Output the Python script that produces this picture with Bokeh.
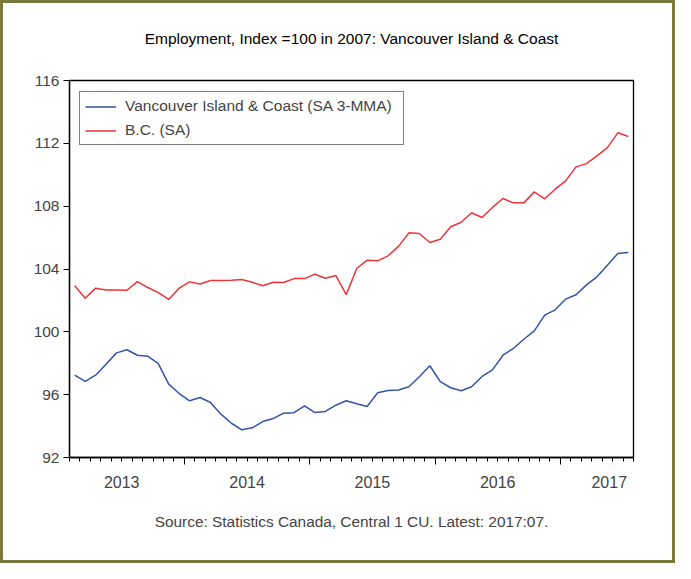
from bokeh.plotting import figure
from bokeh.layouts import column
from bokeh.models import LinearAxis, FixedTicker, Range1d, Legend, LegendItem, Title
from bokeh.embed import file_html
from bokeh.resources import INLINE

# Monthly data, Feb 2013 .. Jul 2017
start_year = 2013
start_month = 2
vancouver_island = [
    97.24, 96.84, 97.24, 97.94, 98.66, 98.86, 98.51, 98.45, 97.98, 96.67,
    96.07, 95.61, 95.82, 95.50, 94.76, 94.18, 93.76, 93.89, 94.29, 94.48,
    94.82, 94.85, 95.29, 94.86, 94.93, 95.33, 95.61, 95.42, 95.25, 96.12,
    96.27, 96.30, 96.50, 97.14, 97.84, 96.83, 96.44, 96.25, 96.50, 97.16,
    97.58, 98.51, 98.94, 99.53, 100.06, 101.06, 101.40, 102.08, 102.36, 102.99,
    103.50, 104.24, 104.99, 105.05,
]
bc = [
    102.93, 102.14, 102.78, 102.67, 102.67, 102.65, 103.20, 102.82, 102.50, 102.06,
    102.78, 103.18, 103.05, 103.27, 103.27, 103.29, 103.33, 103.16, 102.93, 103.16,
    103.14, 103.39, 103.39, 103.67, 103.41, 103.58, 102.37, 104.03, 104.56, 104.52,
    104.84, 105.44, 106.30, 106.26, 105.69, 105.89, 106.69, 106.98, 107.58, 107.28,
    107.92, 108.49, 108.21, 108.21, 108.91, 108.47, 109.08, 109.61, 110.50, 110.71,
    111.20, 111.73, 112.67, 112.43,
]
series_labels = ["Vancouver Island & Coast (SA 3-MMA)", "B.C. (SA)"]
year_labels = ["2013", "2014", "2015", "2016", "2017"]
year_label_pos = [2013.5, 2014.5, 2015.5, 2016.5, 2017.39]
year_ticks = [2014, 2015, 2016, 2017]
y_ticks = [92, 96, 100, 104, 108, 112, 116]
title_text = "Employment, Index =100 in 2007: Vancouver Island & Coast"
source_text = "Source: Statistics Canada, Central 1 CU. Latest: 2017:07."

n = len(vancouver_island)
x = [start_year + (start_month - 1 + i + 0.5) / 12 for i in range(n)]
month_ticks = [start_year + (start_month - 1 + m) / 12 for m in range(n + 1)]

FONT = "Liberation Sans"
BLUE = "#3553a8"
RED = "#f0323a"

p = figure(width=669, height=557, output_backend="svg", toolbar_location=None,
           x_range=Range1d(month_ticks[0], month_ticks[-1]),
           y_range=Range1d(92, 116),
           x_axis_type=None, y_axis_type=None,
           min_border_left=66, min_border_right=39,
           min_border_top=77, min_border_bottom=103)
p.outline_line_color = "black"
p.outline_line_width = 1.3
p.background_fill_color = "white"
p.border_fill_color = "white"

p.title.text = title_text + "\n"
p.title.align = "center"
p.title.text_font = FONT
p.title.text_font_size = "15.5px"
p.title.text_font_style = "normal"
p.title.text_color = "black"
p.title.standoff = 34

yax = LinearAxis(ticker=FixedTicker(ticks=y_ticks, minor_ticks=[]))
yax.major_tick_out = 6
yax.major_tick_in = 0
yax.minor_tick_out = 0
yax.minor_tick_in = 0
yax.axis_line_width = 1.3
yax.major_label_text_font = FONT
yax.major_label_text_font_size = "15.5px"
yax.major_label_standoff = 4
p.add_layout(yax, "left")

xax = LinearAxis(ticker=FixedTicker(ticks=year_ticks, minor_ticks=month_ticks))
xax.major_tick_out = 7
xax.major_tick_in = 0
xax.minor_tick_out = 4
xax.minor_tick_in = 0
xax.axis_line_width = 1.3
xax.major_label_overrides = {t: "" for t in year_ticks}
xax.major_label_text_font_size = "1px"
xax.major_label_standoff = 0
p.add_layout(xax, "below")

xlab = LinearAxis(ticker=FixedTicker(ticks=year_label_pos, minor_ticks=[]))
xlab.axis_line_color = None
xlab.major_tick_line_color = None
xlab.minor_tick_line_color = None
xlab.major_tick_out = 0
xlab.major_tick_in = 0
xlab.major_label_overrides = {pos: lab for pos, lab in zip(year_label_pos, year_labels)}
xlab.major_label_text_font = FONT
xlab.major_label_text_font_size = "16px"
xlab.major_label_standoff = 11
p.add_layout(xlab, "below")

src = Title(text=source_text, align="center", text_font=FONT,
            text_font_size="15.4px", text_font_style="normal", standoff=40)
p.add_layout(src, "below")

r1 = p.line(x, vancouver_island, line_color=BLUE, line_width=1.5)
r2 = p.line(x, bc, line_color=RED, line_width=1.5)

legend = Legend(items=[LegendItem(label=series_labels[0], renderers=[r1]),
                       LegendItem(label=series_labels[1], renderers=[r2])],
                location=(10, 312))
legend.label_text_font = FONT
legend.label_text_font_size = "15.5px"
legend.glyph_width = 31
legend.glyph_height = 17
legend.label_height = 17
legend.label_width = 273
legend.label_standoff = 9
legend.spacing = 6
legend.padding = 5
legend.margin = 0
legend.border_line_color = "black"
legend.border_line_width = 1
legend.background_fill_alpha = 1
p.add_layout(legend)

layout = column(p, styles={"border": "3px solid #7a7a3c"})

open("out.html", "w").write(file_html(layout, INLINE))
